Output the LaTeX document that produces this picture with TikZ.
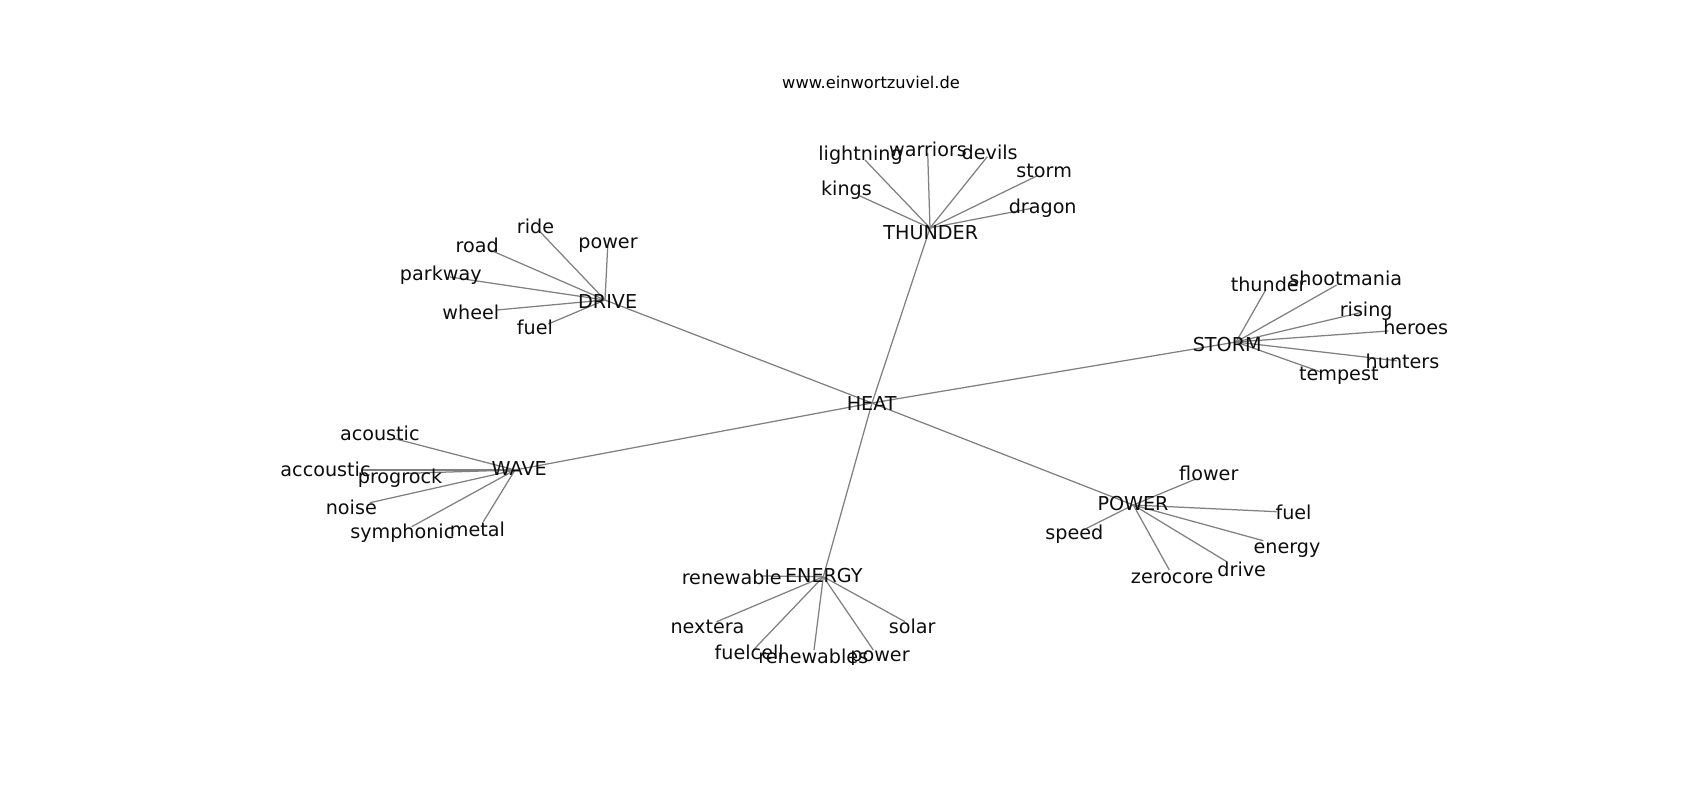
\documentclass[tikz,border=0pt]{standalone}
\usepackage{fontspec}
\setmainfont{DejaVu Sans}
\begin{document}
\begin{tikzpicture}[x=0.72pt,y=-0.72pt,
  edge/.style={draw=black!50,line width=0.9pt},
  lbl/.style={inner sep=0pt,anchor=base,yshift=-1.1pt,font=\fontsize{13.8}{16}\selectfont,text=black!95},
  ttl/.style={inner sep=0pt,anchor=base,font=\fontsize{11.7}{14}\selectfont}]
\useasboundingbox (0,0) rectangle (1700,800);
% hub coordinates
\coordinate (heat) at (872,403);
\coordinate (thunder) at (930,228);
\coordinate (drive) at (605,300);
\coordinate (storm) at (1236,342);
\coordinate (wave) at (515,470);
\coordinate (energy) at (823.3,576.7);
\coordinate (power) at (1133.3,505);
% THUNDER leaves
\coordinate (t1) at (865,160);
\coordinate (t2) at (927.7,153);
\coordinate (t3) at (987.3,156.7);
\coordinate (t4) at (1036.7,176);
\coordinate (t5) at (860,196);
\coordinate (t6) at (1031.7,208.3);
% DRIVE leaves
\coordinate (d1) at (540,231.7);
\coordinate (d2) at (490,250);
\coordinate (d3) at (607.7,246.7);
\coordinate (d4) at (450,277);
\coordinate (d5) at (496.7,310);
\coordinate (d6) at (548.3,324);
% STORM leaves
\coordinate (s1) at (1266,289.3);
\coordinate (s2) at (1336.7,285);
\coordinate (s3) at (1360,312.7);
\coordinate (s4) at (1388.3,331);
\coordinate (s5) at (1396.7,360.7);
\coordinate (s6) at (1320,371.7);
% WAVE leaves
\coordinate (w1) at (393.3,438.3);
\coordinate (w2) at (363.3,470);
\coordinate (w3) at (406.7,473.3);
\coordinate (w4) at (370,502.7);
\coordinate (w5) at (411.7,526.7);
\coordinate (w6) at (483.3,521.7);
% ENERGY leaves
\coordinate (e1) at (760,576);
\coordinate (e2) at (716.7,621.7);
\coordinate (e3) at (905,621.7);
\coordinate (e4) at (753.3,650);
\coordinate (e5) at (814,650);
\coordinate (e6) at (873.3,650);
% POWER leaves
\coordinate (p1) at (1195,479.3);
\coordinate (p2) at (1276.7,511.7);
\coordinate (p3) at (1086.7,528.3);
\coordinate (p4) at (1263.3,540.7);
\coordinate (p5) at (1169.3,570);
\coordinate (p6) at (1226.7,561.7);
% edges
\foreach \h in {thunder,drive,storm,wave,energy,power} \draw[edge] (heat) -- (\h);
\foreach \i in {1,...,6} {
  \draw[edge] (thunder) -- (t\i);
  \draw[edge] (drive) -- (d\i);
  \draw[edge] (storm) -- (s\i);
  \draw[edge] (wave) -- (w\i);
  \draw[edge] (energy) -- (e\i);
  \draw[edge] (power) -- (p\i);
}
% title
\node[ttl] (title) at (871,88.3) {www.einwortzuviel.de};
% labels
\node[lbl] (heat-l) at (871.7,409.3) {HEAT};
\node[lbl] (thunder-l) at (930.8,238.3) {THUNDER};
\node[lbl] (t1-l) at (860.5,159.3) {lightning};
\node[lbl] (t2-l) at (928,155) {warriors};
\node[lbl] (t3-l) at (989.7,158.3) {devils};
\node[lbl] (t4-l) at (1044.2,176) {storm};
\node[lbl] (t5-l) at (846.5,193.7) {kings};
\node[lbl] (t6-l) at (1042.7,211.7) {dragon};
\node[lbl] (drive-l) at (607.7,306.7) {DRIVE};
\node[lbl] (d1-l) at (535.5,231.7) {ride};
\node[lbl] (d2-l) at (477.2,250.7) {road};
\node[lbl] (d3-l) at (608,246.7) {power};
\node[lbl] (d4-l) at (440.8,279) {parkway};
\node[lbl] (d5-l) at (470.8,318.3) {wheel};
\node[lbl] (d6-l) at (535,333.3) {fuel};
\node[lbl] (storm-l) at (1227.2,350) {STORM};
\node[lbl] (s1-l) at (1268.7,290) {thunder};
\node[lbl] (s2-l) at (1345.8,284.3) {shootmania};
\node[lbl] (s3-l) at (1366.2,315.3) {rising};
\node[lbl] (s4-l) at (1415.7,333.3) {heroes};
\node[lbl] (s5-l) at (1402.5,367.3) {hunters};
\node[lbl] (s6-l) at (1338.8,379.3) {tempest};
\node[lbl] (wave-l) at (519.2,474) {WAVE};
\node[lbl] (w1-l) at (379.8,439.3) {acoustic};
\node[lbl] (w2-l) at (325.5,475) {accoustic};
\node[lbl] (w3-l) at (400,481.7) {progrock};
\node[lbl] (w4-l) at (351.3,513.3) {noise};
\node[lbl] (w5-l) at (402.3,536.7) {symphonic};
\node[lbl] (w6-l) at (477.5,535) {metal};
\node[lbl] (energy-l) at (823.8,580.7) {ENERGY};
\node[lbl] (e1-l) at (731.7,583.3) {renewable};
\node[lbl] (e2-l) at (707.5,631.7) {nextera};
\node[lbl] (e3-l) at (912.2,631.7) {solar};
\node[lbl] (e4-l) at (749.2,658.3) {fuelcell};
\node[lbl] (e5-l) at (813.3,661.7) {renewables};
\node[lbl] (e6-l) at (880,660) {power};
\node[lbl] (power-l) at (1133,509.3) {POWER};
\node[lbl] (p1-l) at (1208.8,479.3) {flower};
\node[lbl] (p2-l) at (1293.5,517.7) {fuel};
\node[lbl] (p3-l) at (1074.3,538.3) {speed};
\node[lbl] (p4-l) at (1287,551.7) {energy};
\node[lbl] (p5-l) at (1172.2,581.7) {zerocore};
\node[lbl] (p6-l) at (1241.7,575) {drive};
\end{tikzpicture}
\end{document}
